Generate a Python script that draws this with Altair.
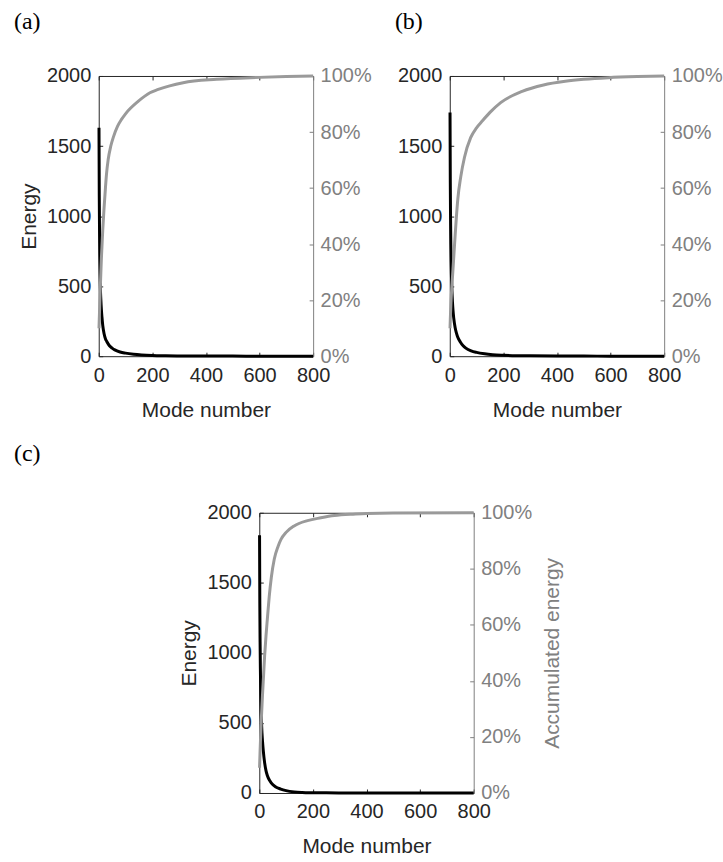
import altair as alt
import pandas as pd

# ---------------- data ----------------
# mode numbers at which the modal energy was sampled (shared by all panels)
energy_modes = [1, 2, 3, 4, 5, 6, 8, 10, 12, 15, 20, 25, 30, 40, 50, 60, 80, 100,
                130, 160, 200, 250, 300, 400, 500, 600, 700, 800]

# panel (a)
a_energy = [1630, 1150, 900, 720, 600, 500, 400, 330, 280, 220, 160, 125, 105, 75,
            58, 45, 30, 22, 14, 9, 5, 3, 2, 1, 0.6, 0.4, 0.2, 0.1]
a_accum_modes = [1, 2, 3, 5, 8, 10, 12, 15, 20, 25, 29, 35, 45, 54, 70, 85, 100,
                 148, 191, 222, 315, 440, 602, 700, 800]
a_accum = [10, 13, 16, 22, 30, 35, 39, 45, 53, 60, 65, 70, 75, 78, 82, 84.5, 86.5,
           91, 94, 95.2, 97.6, 98.8, 99.5, 99.8, 100]

# panel (b)
b_energy = [1740, 1250, 980, 800, 680, 590, 470, 390, 330, 270, 205, 165, 135, 100,
            75, 58, 38, 27, 17, 11, 7, 4, 2.5, 1.2, 0.7, 0.4, 0.2, 0.1]
b_accum_modes = [1, 2, 3, 5, 8, 12, 16, 20, 25, 30, 41, 55, 78, 100, 122, 150, 190,
                 270, 350, 431, 500, 591, 700, 800]
b_accum = [10, 13, 15.5, 20, 25, 31, 37, 43, 50, 56, 64, 71, 78, 81.5, 84, 87, 90.5,
           94.5, 96.8, 98.1, 98.8, 99.4, 99.8, 100]

# panel (c)
c_energy = [1840, 1350, 1080, 900, 770, 660, 520, 430, 370, 300, 215, 160, 125, 85,
            60, 45, 28, 17, 8, 4, 2, 1, 0.6, 0.3, 0.2, 0.1, 0.05, 0.02]
c_accum_modes = [1, 3, 5, 8, 12, 16, 20, 25, 30, 37, 45, 56, 70, 81, 100, 130, 180,
                 230, 280, 350, 400, 500, 800]
c_accum = [9, 15, 20, 27, 35, 42, 49, 56, 62, 70, 77, 83.5, 88, 90.5, 93, 95.3, 97.2,
           98.2, 99, 99.5, 99.7, 99.9, 100]

# axis tick values
mode_ticks = [0, 200, 400, 600, 800]
energy_ticks = [0, 500, 1000, 1500, 2000]
share_ticks = [0, 0.2, 0.4, 0.6, 0.8, 1.0]

# ---------------- styling ----------------
W, H = 215, 281
INK = "#262626"
AXIS_GREY = "#808080"
CURVE_GREY = "#9a9a9a"
SANS = "Liberation Sans"
SERIF = "Liberation Serif"
INWARD = {"expr": "-4"}          # ticks drawn inside the plot box
LABEL_SIZE = 20
TITLE_SIZE = 21


def axis_style(color):
    return dict(grid=False, domainColor=color, tickColor=color, labelColor=color,
                titleColor=color, labelFont=SANS, labelFontSize=LABEL_SIZE,
                titleFont=SANS, titleFontSize=TITLE_SIZE, titleFontWeight="normal",
                tickSize=INWARD, labelFlush=False, labelOverlap=False,
                domainWidth=1, tickWidth=1)


def panel(energy, accum_modes, accum, tag=None, tag_dx=0,
          energy_title=True, accum_title=False):
    e_df = pd.DataFrame({"mode": energy_modes, "energy": energy})
    c_df = pd.DataFrame({"mode": accum_modes, "share": [v / 100 for v in accum]})
    x_scale = alt.Scale(domain=[0, 800], nice=False, zero=False)

    left_kw = axis_style(INK)
    left_kw.update(orient="left", values=energy_ticks, format="d", labelPadding=12,
                   title="Energy" if energy_title else None)
    if energy_title:
        left_kw["titlePadding"] = 7

    right_kw = axis_style(AXIS_GREY)
    right_kw.update(orient="right", values=share_ticks, format=".0%", labelPadding=11,
                    title="Accumulated energy" if accum_title else None)
    if accum_title:
        right_kw.update(titleAngle=270, titleBaseline="top", titlePadding=10)

    bottom_kw = axis_style(INK)
    bottom_kw.update(orient="bottom", values=mode_ticks, format="d", labelPadding=13,
                     title="Mode number", titlePadding=14)

    top_kw = axis_style(INK)
    top_kw.update(orient="top", values=mode_ticks, labels=False, title=None)

    energy_line = alt.Chart(e_df).mark_line(
        color="black", strokeWidth=3, interpolate="monotone").encode(
        x=alt.X("mode:Q", scale=x_scale, axis=alt.Axis(**bottom_kw)),
        y=alt.Y("energy:Q", scale=alt.Scale(domain=[0, 2000], nice=False),
                axis=alt.Axis(**left_kw)),
    )
    accum_line = alt.Chart(c_df).mark_line(
        color=CURVE_GREY, strokeWidth=3, interpolate="monotone").encode(
        x=alt.X("mode:Q", scale=x_scale, axis=alt.Axis(**top_kw)),
        y=alt.Y("share:Q", scale=alt.Scale(domain=[0, 1], nice=False),
                axis=alt.Axis(**right_kw)),
    )
    layers = [energy_line, accum_line]
    if tag is not None:
        layers.append(
            alt.Chart(pd.DataFrame({"tag": [tag]})).mark_text(
                align="left", baseline="alphabetic", font=SERIF, fontSize=24,
                color="black").encode(text="tag:N", x=alt.value(tag_dx), y=alt.value(-47))
        )
    return alt.layer(*layers).resolve_scale(y="independent").resolve_axis(
        x="independent", y="independent").properties(width=W, height=H)


pa = panel(a_energy, a_accum_modes, a_accum, tag="(a)", tag_dx=-85)
pb = panel(b_energy, b_accum_modes, b_accum, tag="(b)", tag_dx=-55, energy_title=False)
pc = panel(c_energy, c_accum_modes, c_accum, accum_title=True)

# label of the lower panel, kept in its own narrow column to the left
c_tag = alt.Chart(pd.DataFrame({"tag": ["(c)"]})).mark_text(
    align="left", baseline="alphabetic", font=SERIF, fontSize=24, color="black"
).encode(text="tag:N", x=alt.value(-85), y=alt.value(-52)).properties(width=1, height=1)

top_row = alt.hconcat(pa, pb, spacing=137, bounds="flush")
bottom_row = alt.hconcat(c_tag, pc, spacing=160, bounds="flush")

chart = alt.vconcat(top_row, bottom_row, spacing=22).properties(
    padding={"left": 14, "top": 9, "right": 0, "bottom": 0},
    background="white",
).configure_view(stroke=None)

chart.save("out.html", embed_options={"renderer": "svg", "actions": False})
